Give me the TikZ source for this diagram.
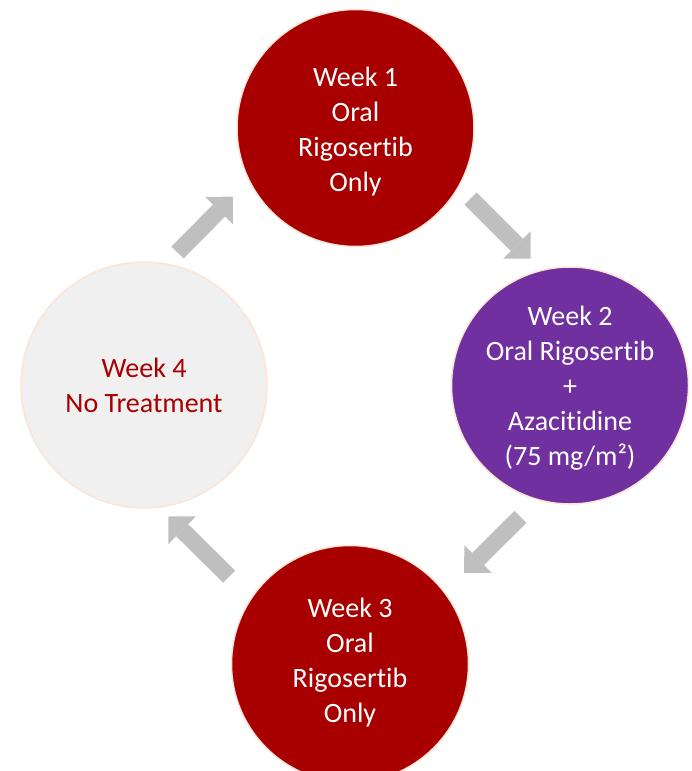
\documentclass[tikz,border=0pt]{standalone}
\usepackage{fontspec}
\setmainfont{Carlito}[Ligatures=NoCommon]
\usetikzlibrary{arrows.meta,calc}
\definecolor{wred}{HTML}{A80000}
\definecolor{wpurple}{HTML}{7030A0}
\definecolor{wgray}{HTML}{F0F0F0}
\definecolor{wrim}{HTML}{FBE5D6}
\definecolor{agray}{HTML}{BFBFBF}
\tikzset{
  week/.style={circle, draw=wrim, line width=1.5pt, inner sep=0pt},
  redweek/.style={week, fill=wred, minimum size=237pt},
  purpleweek/.style={week, fill=wpurple, minimum size=237pt},
  offweek/.style={week, fill=wgray, minimum size=246pt},
  weektext/.style={inner sep=0pt, align=center, text=white,
    font=\fontsize{28}{35}\selectfont},
  blockarrow/.style={draw=agray, line width=17pt,
    -{Triangle[width=39pt,length=19.5pt,line width=0pt]}}
}
\begin{document}
\begin{tikzpicture}[x=1pt,y=-1pt]
\useasboundingbox[fill=white] (0,0) rectangle (692,771);
\node[redweek] (w1) at (355.5,128) {};
\node[purpleweek] (w2) at (570,385.5) {};
\node[redweek] (w3) at (350,664) {};
\node[offweek] (w4) at (144,385) {};
\node[weektext] (t1) at ($(w1)+(0,4)$) {Week 1\\Oral\\Rigosertib\\Only};
\node[weektext] (t2) at ($(w2)+(0,3)$) {Week 2\\Oral Rigosertib\\+\\Azacitidine\\(75 mg/m²)};
\node[weektext] (t3) at ($(w3)+(0,-1)$) {Week 3\\Oral\\Rigosertib\\Only};
\node[weektext, text=wred] (t4) at (w4) {Week 4\\No Treatment};
\coordinate (a1s) at (470.5,198.5);
\coordinate (a1e) at (530.7,258.7);
\coordinate (a2s) at (520.5,516.8);
\coordinate (a2e) at (464.2,572.8);
\coordinate (a3s) at (229.2,576.7);
\coordinate (a3e) at (168.3,516.5);
\coordinate (a4s) at (177.5,252.5);
\coordinate (a4e) at (232.8,196.7);
\draw[blockarrow] (a1s) -- (a1e);
\draw[blockarrow] (a2s) -- (a2e);
\draw[blockarrow] (a3s) -- (a3e);
\draw[blockarrow] (a4s) -- (a4e);
\end{tikzpicture}
\end{document}
